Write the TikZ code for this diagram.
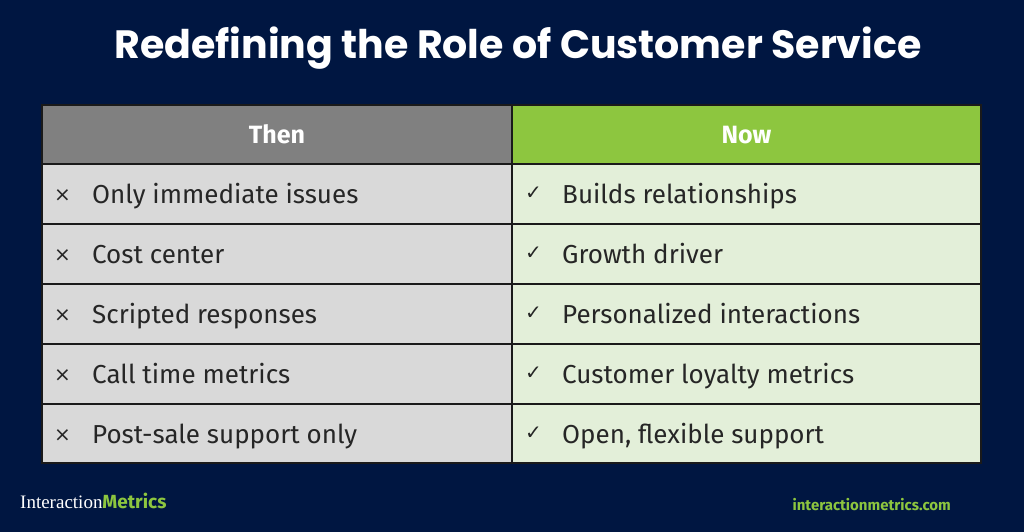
\documentclass[tikz,border=0pt]{standalone}
\usepackage{fontspec}
\setmainfont{Fira Sans}
\newfontfamily\titlefont{Poppins}
\newfontfamily\logoserif{Liberation Serif}
\newfontfamily\symfont{DejaVu Sans}
\definecolor{bg}{HTML}{001641}
\definecolor{hgray}{HTML}{808080}
\definecolor{hgreen}{HTML}{8DC63F}
\definecolor{lrow}{HTML}{D9D9D9}
\definecolor{rrow}{HTML}{E3EFD9}
\definecolor{grid}{HTML}{1A1A1A}
\begin{document}
\begin{tikzpicture}[x=1pt,y=-1pt,
  cell/.style={draw=grid,line width=1.2pt},
  item/.style={anchor=base west,font=\fontsize{26}{30}\selectfont,text=black!85,inner sep=0},
  head/.style={anchor=base,font=\fontsize{25}{29}\selectfont\bfseries,text=white}]
\fill[bg] (0,0) rectangle (1024,532);
\useasboundingbox (0,0) rectangle (1024,532);
\node (title) at (518,48) {\titlefont\fontsize{39.5}{44}\selectfont\bfseries\color{white}Redefining the Role of Customer Service};
\fill[hgray] (42,105) rectangle (512,164);
\fill[hgreen] (512,105) rectangle (981,164);
\node[head] (hthen) at (277,143) {Then};
\node[head] (hnow) at (746.5,143) {Now};
\foreach \i/\a/\b in {0/Only immediate issues/Builds relationships,
  1/Cost center/Growth driver,
  2/Scripted responses/Personalized interactions,
  3/Call time metrics/Customer loyalty metrics,
  4/Post-sale support only/{Open, flexible support}}{
  \pgfmathsetmacro\ya{164+60*\i}
  \pgfmathsetmacro\yb{\ya+60}
  \pgfmathsetmacro\ym{\ya+39}
  \fill[lrow] (42,\ya) rectangle (512,\yb);
  \fill[rrow] (512,\ya) rectangle (981,\yb);
  \node[item] (x\i) at (54,\ym-2) {\symfont\fontsize{20}{24}\selectfont ×};
  \node[item] (l\i) at (92,\ym) {\a};
  \node[item] (c\i) at (525,\ym-4) {\symfont\fontsize{20}{24}\selectfont ✓};
  \node[item] (r\i) at (562,\ym) {\b};
}
\foreach \y in {164,224,284,344,404} \draw[grid,line width=1.2pt] (42,\y) -- (981,\y);
\draw[cell] (42,105) rectangle (981,463);
\draw[cell] (512,105) -- (512,463);
\node[anchor=west,inner sep=0] (logo) at (20,501) {\logoserif\fontsize{19}{22}\selectfont\color{white}Interaction\rmfamily\bfseries\color{hgreen}Metrics};
\node[anchor=east,inner sep=0,font=\fontsize{15}{18}\selectfont\bfseries,text=hgreen] (url) at (951,505) {interactionmetrics.com};
\end{tikzpicture}
\end{document}
